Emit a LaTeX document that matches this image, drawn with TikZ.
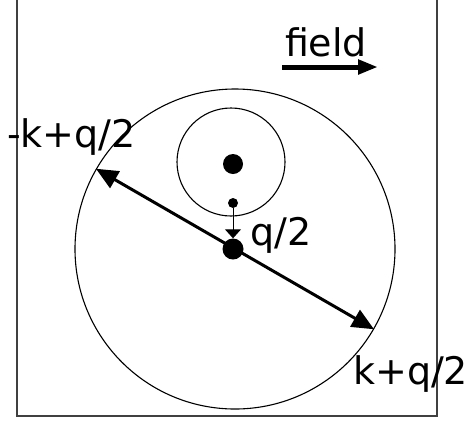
\documentclass[tikz,border=0pt]{standalone}
\usepackage{fontspec}
\setmainfont{DejaVu Sans}
\usetikzlibrary{arrows.meta}

\begin{document}
\begin{tikzpicture}[x=1pt, y=-1pt,
  orbit/.style={circle, draw, line width=1.1pt, inner sep=0pt},
  dot/.style={circle, fill=black, inner sep=0pt},
  lbl/.style={inner sep=0pt, font=\fontsize{38}{40}\selectfont}]
  \useasboundingbox (0,0) rectangle (470,424);

  % frame, open at the top
  \draw[line width=1.5pt, black!75] (17,0) |- (437,416) -- (437,0);

  % circles
  \node (outer) [orbit, minimum size=320pt] at (235,249) {};
  \node (inner) [orbit, minimum size=108pt] at (231,162) {};

  % dots
  \node (nucleus) [dot, minimum size=20pt] at (233,164) {};
  \node (probe) [dot, minimum size=10pt] at (233,203) {};
  \node (centre) [dot, minimum size=21pt] at (233,249) {};

  % arrows
  \draw[{Triangle[length=22pt, width=19pt]}-{Triangle[length=22pt, width=19pt]}, line width=3pt]
    (outer.150) -- (outer.-30);
  \draw[-{Triangle[length=9pt, width=16pt]}, line width=1pt] (probe) -- (centre.north);

  % field direction
  \coordinate (fieldtail) at (282,67);
  \coordinate (fieldhead) at (378,67);
  \draw[-{Triangle[length=20pt, width=14pt]}, line width=5pt] (fieldtail) -- (fieldhead);

  % labels
  \node (field) [lbl, anchor=base] at (326,56) {field};
  \node (minusk) [lbl, anchor=base west] at (7,147) {-k+q/2};
  \node (half) [lbl, anchor=base west] at (250,245) {q/2};
  \node (plusk) [lbl, anchor=base west] at (353,384) {k+q/2};
\end{tikzpicture}
\end{document}
